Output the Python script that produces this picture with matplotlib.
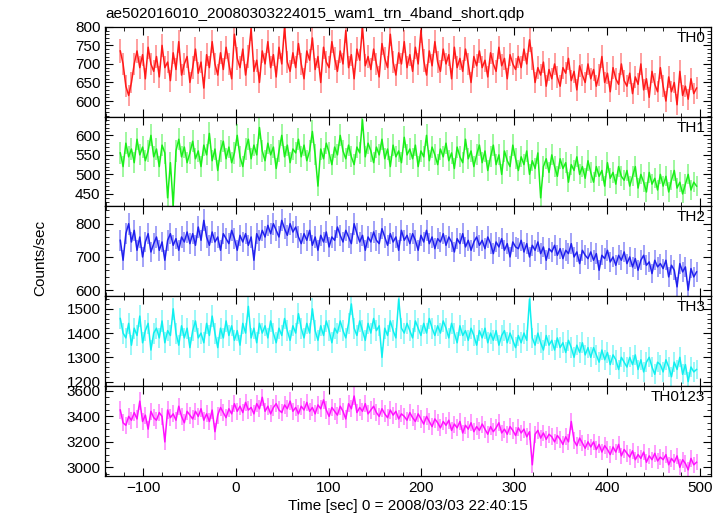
import numpy as np
import matplotlib
matplotlib.use("Agg")
import matplotlib.pyplot as plt
from matplotlib.ticker import MultipleLocator

plt.rcParams['font.family'] = ['Liberation Sans', 'DejaVu Sans']

# light curve bins: 3 s wide, first bin centred at -124.5 s
T_START = -124.5
BIN_SEC = 3.0
ERR_DT = 0.75   # exposure used for the Poisson error bars

th0 = [
    735, 700, 640, 615, 650, 700, 735, 690, 725, 660, 745, 700, 680,
    720, 665, 750, 690, 705, 655, 730, 685, 760, 670, 700, 720, 650,
    690, 740, 675, 705, 635, 725, 690, 760, 700, 670, 730, 685, 745,
    700, 660, 780, 715, 690, 740, 670, 720, 795, 680, 710, 650, 735,
    700, 760, 690, 725, 665, 745, 700, 800, 705, 680, 730, 690, 755,
    700, 660, 735, 710, 770, 685, 720, 650, 745, 705, 690, 760, 715,
    680, 735, 700, 790, 690, 725, 660, 740, 710, 800, 695, 720, 685,
    740, 700, 665, 755, 715, 690, 780, 705, 670, 730, 700, 760, 690,
    725, 680, 745, 700, 790, 710, 670, 735, 695, 760, 705, 680, 740,
    700, 725, 660, 745, 690, 715, 680, 740, 700, 650, 720, 695, 735,
    690, 710, 665, 730, 700, 680, 745, 695, 715, 660, 725, 700, 685,
    720, 690, 740, 700, 765, 715, 650, 690, 670, 705, 640, 685, 660,
    700, 665, 640, 690, 675, 715, 655, 680, 630, 695, 670, 650, 700,
    660, 685, 640, 670, 720, 650, 675, 625, 690, 660, 645, 700, 655,
    640, 675, 620, 665, 645, 700, 630, 660, 610, 680, 645, 625, 690,
    640, 600, 665, 625, 650, 590, 680, 615, 640, 605, 660, 620, 635,
]
th1 = [
    555, 520, 580, 545, 565, 530, 590, 550, 570, 535, 560, 600, 545,
    565, 520, 575, 555, 440, 530, 420, 560, 590, 545, 570, 530, 555,
    585, 540, 560, 520, 575, 550, 605, 535, 565, 510, 560, 585, 540,
    570, 530, 555, 600, 545, 520, 565, 590, 540, 575, 550, 620, 560,
    535, 580, 550, 570, 515, 560, 600, 545, 575, 530, 565, 555, 590,
    545, 575, 535, 560, 610, 550, 470, 565, 540, 580, 555, 525, 570,
    550, 600, 560, 540, 575, 545, 525, 570, 555, 640, 545, 580, 560,
    530, 570, 550, 590, 540, 565, 520, 575, 545, 560, 530, 595, 550,
    565, 540, 575, 520, 560, 545, 600, 535, 570, 550, 525, 565, 545,
    580, 535, 555, 515, 570, 545, 530, 590, 540, 560, 520, 550, 575,
    530, 560, 510, 545, 575, 525, 550, 500, 560, 535, 520, 575, 540,
    510, 545, 525, 560, 500, 535, 515, 555, 440, 520, 540, 505, 550,
    520, 495, 540, 515, 530, 480, 525, 510, 545, 500, 520, 490, 535,
    505, 480, 520, 495, 510, 470, 530, 490, 505, 475, 520, 495, 485,
    510, 470, 495, 520, 465, 500, 480, 455, 505, 475, 490, 460, 500,
    470, 495, 455, 485, 510, 465, 480, 450, 475, 500, 460, 480, 470,
]
th2 = [
    750, 690, 770, 800, 745, 780, 720, 760, 700, 745, 770, 715, 740,
    760, 720, 745, 690, 750, 770, 735, 755, 720, 760, 745, 775, 740,
    770, 735, 790, 750, 810, 760, 735, 775, 745, 760, 720, 770, 755,
    740, 780, 755, 720, 765, 745, 770, 735, 760, 690, 770, 750, 780,
    760, 795, 770, 800, 780, 760, 810, 785, 765, 800, 775, 790, 760,
    740, 770, 750, 780, 735, 760, 720, 765, 745, 775, 730, 760, 750,
    790, 765, 745, 780, 760, 740, 800, 770, 745, 765, 720, 760, 745,
    775, 750, 740, 785, 760, 735, 770, 745, 760, 720, 780, 750, 765,
    740, 770, 750, 720, 765, 745, 780, 740, 760, 725, 755, 745, 770,
    735, 760, 745, 715, 755, 740, 770, 730, 750, 720, 745, 760, 735,
    750, 725, 760, 740, 710, 745, 730, 755, 720, 740, 700, 745, 730,
    725, 750, 715, 740, 700, 735, 720, 745, 710, 730, 690, 725, 715,
    735, 705, 725, 695, 720, 710, 740, 700, 715, 680, 720, 705, 695,
    715, 690, 710, 660, 705, 695, 720, 685, 700, 675, 705, 690, 715,
    680, 700, 670, 695, 660, 690, 705, 675, 685, 650, 690, 670, 680,
    665, 690, 640, 675, 660, 610, 680, 655, 670, 600, 665, 640, 655,
]
th3 = [
    1460, 1400, 1380, 1440, 1350, 1420, 1390, 1470, 1360, 1410, 1440, 1330, 1400,
    1420, 1380, 1450, 1360, 1410, 1390, 1500, 1400, 1350, 1430, 1380, 1420, 1340,
    1410, 1450, 1380, 1400, 1360, 1440, 1390, 1470, 1400, 1340, 1420, 1380, 1450,
    1390, 1430, 1370, 1410, 1350, 1440, 1400, 1510, 1380, 1420, 1360, 1440, 1400,
    1430, 1380, 1450, 1400, 1360, 1420, 1390, 1460, 1410, 1370, 1430, 1400, 1480,
    1420, 1380, 1440, 1400, 1500, 1410, 1370, 1430, 1390, 1450, 1410, 1360, 1420,
    1400, 1450, 1410, 1380, 1440, 1520, 1420, 1390, 1450, 1410, 1370, 1440, 1400,
    1460, 1410, 1430, 1300, 1420, 1390, 1450, 1410, 1380, 1540, 1420, 1400, 1440,
    1410, 1380, 1450, 1420, 1390, 1440, 1400, 1460, 1420, 1390, 1430, 1400, 1450,
    1420, 1380, 1440, 1400, 1360, 1430, 1390, 1410, 1370, 1420, 1390, 1350, 1410,
    1380, 1420, 1360, 1400, 1370, 1410, 1350, 1390, 1410, 1360, 1400, 1370, 1340,
    1390, 1360, 1400, 1370, 1540, 1380, 1350, 1400, 1360, 1330, 1390, 1350, 1370,
    1330, 1380, 1340, 1360, 1320, 1370, 1340, 1300, 1350, 1320, 1360, 1310, 1340,
    1300, 1340, 1310, 1280, 1330, 1290, 1320, 1270, 1310, 1290, 1250, 1300, 1280,
    1260, 1300, 1270, 1310, 1250, 1290, 1240, 1280, 1300, 1260, 1230, 1280, 1270,
    1240, 1290, 1260, 1220, 1280, 1250, 1300, 1230, 1270, 1200, 1260, 1240, 1250,
]
th0123 = [
    3450, 3350, 3330, 3400, 3370, 3430, 3380, 3520, 3360, 3410, 3300, 3440, 3390,
    3370, 3430, 3400, 3200, 3450, 3390, 3420, 3370, 3480, 3400, 3350, 3440, 3410,
    3380, 3440, 3400, 3460, 3370, 3420, 3360, 3450, 3280, 3410, 3470, 3430, 3390,
    3460, 3420, 3500, 3440, 3480, 3430, 3510, 3450, 3470, 3420, 3500, 3460, 3550,
    3440, 3480, 3420, 3470, 3500, 3450, 3430, 3490, 3460, 3520, 3440, 3470, 3420,
    3480, 3450, 3510, 3440, 3470, 3420, 3490, 3460, 3530, 3450, 3400, 3470, 3440,
    3410, 3480, 3440, 3380, 3500, 3460, 3560, 3430, 3470, 3440, 3500, 3420, 3450,
    3480, 3430, 3400, 3460, 3420, 3390, 3450, 3410, 3440, 3380, 3420, 3400, 3370,
    3430, 3390, 3360, 3420, 3380, 3340, 3400, 3360, 3320, 3380, 3350, 3310, 3360,
    3330, 3370, 3290, 3340, 3310, 3360, 3270, 3330, 3300, 3350, 3280, 3320, 3290,
    3340, 3300, 3260, 3320, 3280, 3310, 3350, 3270, 3300, 3260, 3320, 3290, 3250,
    3310, 3270, 3300, 3240, 3280, 3020, 3260, 3290, 3230, 3270, 3220, 3260, 3240,
    3200, 3250, 3220, 3180, 3240, 3200, 3360, 3210, 3170, 3230, 3190, 3150, 3200,
    3160, 3200, 3140, 3180, 3120, 3170, 3140, 3100, 3160, 3120, 3180, 3090, 3140,
    3110, 3080, 3130, 3060, 3100, 3070, 3120, 3040, 3090, 3060, 3110, 3050, 3080,
    3060, 3100, 3020, 3070, 3040, 3090, 3000, 3060, 3030, 2980, 3070, 3020, 3040,
]

names = ["TH0", "TH1", "TH2", "TH3", "TH0123"]
series = [th0, th1, th2, th3, th0123]
colors = ["#ff1a1a", "#1aee1a", "#2020ee", "#10f0f0", "#ff10ff"]
ylims = [(558, 800), (418, 648), (582, 852), (1182, 1552), (2934, 3639)]
major = [50, 50, 100, 100, 200]
minor = [10, 10, 20, 20, 50]

fig, axes = plt.subplots(5, 1, sharex=True, figsize=(7.26, 5.16), dpi=100)
fig.subplots_adjust(left=0.145, right=0.98, top=0.948, bottom=0.078, hspace=0)

for ax, name, vals, col, yl, mj, mn in zip(axes, names, series, colors, ylims, major, minor):
    rate = np.array(vals, dtype=float)
    t = T_START + BIN_SEC * np.arange(len(rate))
    err = np.sqrt(rate / ERR_DT)
    ax.vlines(t, rate - err, rate + err, color=col, alpha=0.45, lw=1.3)
    ax.plot(t, rate, color=col, lw=1.1)
    ax.set_ylim(*yl)
    ax.yaxis.set_major_locator(MultipleLocator(mj))
    ax.yaxis.set_minor_locator(MultipleLocator(mn))
    ax.text(0.99, 0.955, name, transform=ax.transAxes, ha="right", va="top", fontsize=11)
    ax.tick_params(which="both", direction="in", top=True, right=True, labelsize=11)
    ax.tick_params(which="major", length=6)
    ax.tick_params(which="minor", length=3)
    for s in ax.spines.values():
        s.set_linewidth(0.9)

axes[-1].set_xlim(-140.7, 512.6)
axes[-1].xaxis.set_major_locator(MultipleLocator(100))
axes[-1].xaxis.set_minor_locator(MultipleLocator(20))
axes[-1].set_xlabel("Time [sec] 0 = 2008/03/03 22:40:15", fontsize=11, labelpad=3)
axes[0].set_title("ae502016010_20080303224015_wam1_trn_4band_short.qdp",
                  loc="left", fontsize=11, pad=6)
fig.text(0.055, 0.5, "Counts/sec", rotation=90, ha="center", va="center", fontsize=11)

plt.savefig("out.png")
plt.close()
